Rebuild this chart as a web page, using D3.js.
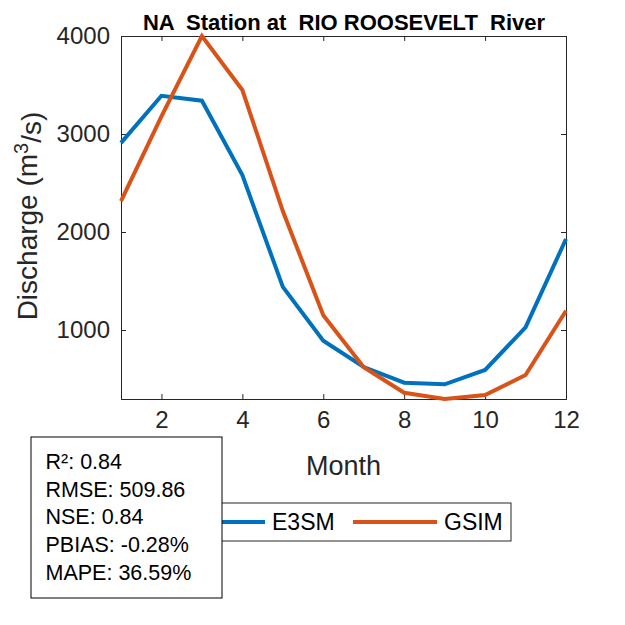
<!DOCTYPE html>
<html><head><meta charset="utf-8">
<script src="https://cdn.jsdelivr.net/npm/d3@7"></script>
<style>body{margin:0;background:#fff}svg{display:block}text{font-family:"Liberation Sans",Arial,sans-serif}</style>
</head><body>
<svg id="c" width="625" height="625"></svg>
<script>
const months = [1,2,3,4,5,6,7,8,9,10,11,12];
const e3sm = [2910,3390,3340,2580,1440,890,622,462,446,592,1027,1929];
const gsim = [2316,3180,4000,3449,2214,1150,620,360,296,337,541,1197];
const xTicks = [2,4,6,8,10,12];
const yTicks = [1000,2000,3000,4000];
const stats = ["R²: 0.84","RMSE: 509.86","NSE: 0.84","PBIAS: -0.28%","MAPE: 36.59%"];
const seriesNames = ["E3SM","GSIM"];
const colors = ["#0072BD","#D95319"];

const svg = d3.select("#c");
const L=121,R=566,T=36,B=399;
const x = d3.scaleLinear().domain([1,12]).range([L,R]);
const yMin = d3.min(gsim.concat(e3sm)), yMax = d3.max(gsim.concat(e3sm));
const y = d3.scaleLinear().domain([yMin,yMax]).range([B,T]);
const axc="#262626";

// axes
const gx = svg.append("g").attr("transform",`translate(0,${B})`)
  .call(d3.axisBottom(x).tickValues(xTicks).tickSize(-5).tickPadding(12).tickFormat(d3.format("d")));
const gxt = svg.append("g").attr("transform",`translate(0,${T})`)
  .call(d3.axisTop(x).tickValues(xTicks).tickSize(-5).tickFormat(""));
const gy = svg.append("g").attr("transform",`translate(${L},0)`)
  .call(d3.axisLeft(y).tickValues(yTicks).tickSize(-5).tickPadding(11).tickFormat(d3.format("d")));
const gyr = svg.append("g").attr("transform",`translate(${R},0)`)
  .call(d3.axisRight(y).tickValues(yTicks).tickSize(-5).tickFormat(""));
[gx,gxt,gy,gyr].forEach(g=>{
  g.selectAll("path.domain").attr("stroke",axc).attr("stroke-width",1);
  g.selectAll("line").attr("stroke",axc);
  g.selectAll("text").attr("fill",axc).style("font-size","24px").style("font-family","Liberation Sans, Arial, sans-serif");
});
gx.selectAll("text").attr("dy","0.71em");

// lines
const line = d3.line().x((d,i)=>x(months[i])).y(d=>y(d));
[e3sm,gsim].forEach((s,k)=>{
  svg.append("path").attr("d",line(s)).attr("fill","none")
    .attr("stroke",colors[k]).attr("stroke-width",4).attr("stroke-linejoin","miter");
});

// title
svg.append("text").attr("x",(L+R)/2+0.5).attr("y",30).attr("text-anchor","middle")
  .style("font-size","22px").style("font-weight","bold").attr("fill","#000")
  .style("white-space","pre").attr("xml:space","preserve").text("NA  Station at  RIO ROOSEVELT  River");

// axis labels
svg.append("text").attr("x",(L+R)/2).attr("y",475).attr("text-anchor","middle")
  .style("font-size","27px").attr("fill",axc).text("Month");
const yl = svg.append("text").attr("transform","translate(37,216) rotate(-90)")
  .attr("text-anchor","middle").style("font-size","28px").attr("fill",axc);
yl.append("tspan").text("Discharge (m");
yl.append("tspan").attr("dy","-0.45em").style("font-size","20px").text("3");
yl.append("tspan").attr("dy","0.45em").text("/s)");

// legend
svg.append("rect").attr("x",172).attr("y",503).attr("width",339).attr("height",38)
  .attr("fill","#fff").attr("stroke",axc).attr("stroke-width",1);
const legX=[181,353];
seriesNames.forEach((n,k)=>{
  svg.append("line").attr("x1",legX[k]).attr("x2",legX[k]+84).attr("y1",522).attr("y2",522)
    .attr("stroke",colors[k]).attr("stroke-width",4);
  svg.append("text").attr("x",legX[k]+91).attr("y",530).style("font-size","23px").attr("fill","#000").text(n);
});

// stats box
svg.append("rect").attr("x",31).attr("y",437).attr("width",191).attr("height",161)
  .attr("fill","#fff").attr("stroke","#000").attr("stroke-width",1);
stats.forEach((s,i)=>{
  svg.append("text").attr("x",45.5).attr("y",469+i*27.7).style("font-size","21.5px").attr("fill","#000").text(s);
});
</script>
</body></html>
